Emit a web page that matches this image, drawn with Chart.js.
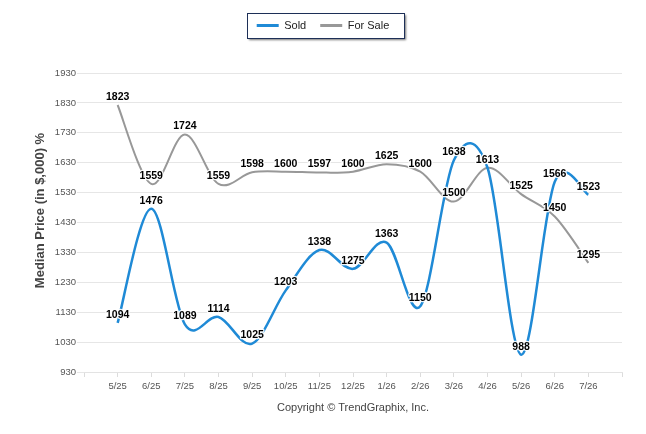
<!DOCTYPE html>
<html>
<head>
<meta charset="utf-8">
<script src="https://cdn.jsdelivr.net/npm/chart.js@4/dist/chart.umd.min.js"></script>
<style>
  html, body { margin: 0; padding: 0; background: #ffffff; }
  #wrap { width: 646px; height: 434px; }
</style>
</head>
<body>
<div id="wrap"><canvas id="c" width="646" height="434"></canvas></div>
<script>
const categories = ['5/25','6/25','7/25','8/25','9/25','10/25','11/25','12/25','1/26','2/26','3/26','4/26','5/26','6/26','7/26'];
const soldValues = [1094,1476,1089,1114,1025,1203,1338,1275,1363,1150,1638,1613,988,1566,1523];
const forSaleValues = [1823,1559,1724,1559,1598,1600,1597,1600,1625,1600,1500,1613,1525,1450,1295];
const yTicks = [930,1030,1130,1230,1330,1430,1530,1630,1730,1830,1930];
const seriesNames = ['Sold','For Sale'];
const seriesColors = ['#1f8ad6','#989898'];
const yTitle = 'Median Price (in $,000) %';
const xTitle = 'Copyright \u00A9 TrendGraphix, Inc.';

// one empty slot on each side of the categories
const labels = [''].concat(categories, ['']);
const pad = arr => [null].concat(arr, [null]);

Chart.defaults.font.family = '"Liberation Sans", Arial, sans-serif';

// uniform Catmull-Rom control points from the element positions
const splinePlugin = {
  id: 'catmullRom',
  beforeDatasetDraw(chart, args) {
    const meta = args.meta;
    const pts = meta.data.filter(p => !p.skip);
    for (let i = 0; i < pts.length; i++) {
      const p = pts[i];
      const prev = pts[i - 1] || p;
      const next = pts[i + 1] || p;
      const dx = (next.x - prev.x) / 6;
      const dy = (next.y - prev.y) / 6;
      p.cp1x = p.x - dx; p.cp1y = p.y - dy;
      p.cp2x = p.x + dx; p.cp2y = p.y + dy;
    }
    meta.dataset._pointsUpdated = true;
    meta.dataset._path = undefined;
  }
};

const legendSizePlugin = {
  id: 'legendSize',
  beforeLayout(chart) {
    const lg = chart.legend;
    if (lg && !lg._sizePatched) {
      const orig = lg.fit;
      lg.fit = function () { orig.call(this); this.height = 67; };
      lg._sizePatched = true;
    }
  }
};

function legendFrame(chart) {
  const hb = chart.legend && chart.legend.legendHitBoxes;
  if (!hb || !hb.length) return null;
  const first = hb[0], last = hb[hb.length - 1];
  const left = Math.round(first.left - 10);
  const right = Math.round(last.left + last.width + 15);
  const top = Math.round(first.top - 7);
  const bottom = Math.round(first.top + first.height + 7);
  return {left, right, top, bottom};
}

const legendBoxPlugin = {
  id: 'legendBox',
  beforeDraw(chart) {
    const f = legendFrame(chart);
    if (!f) return;
    const ctx = chart.ctx;
    ctx.save();
    ctx.shadowColor = 'rgba(0,0,0,0.55)';
    ctx.shadowBlur = 2;
    ctx.shadowOffsetX = 2;
    ctx.shadowOffsetY = 2;
    ctx.fillStyle = '#ffffff';
    ctx.fillRect(f.left, f.top, f.right - f.left, f.bottom - f.top);
    ctx.restore();
  },
  afterDraw(chart) {
    const f = legendFrame(chart);
    if (!f) return;
    const ctx = chart.ctx;
    ctx.save();
    ctx.strokeStyle = '#1d2f57';
    ctx.lineWidth = 1;
    ctx.strokeRect(f.left + 0.5, f.top + 0.5, f.right - f.left, f.bottom - f.top);
    ctx.restore();
  }
};

// vertical axis title, placed a little above the plot's middle as in the original
const yTitlePlugin = {
  id: 'yTitle',
  afterDraw(chart) {
    const ctx = chart.ctx;
    const area = chart.chartArea;
    ctx.save();
    ctx.translate(40, (area.top + area.bottom) / 2 - 12);
    ctx.rotate(-Math.PI / 2);
    ctx.font = 'bold 13px "Liberation Sans", Arial, sans-serif';
    ctx.fillStyle = '#444444';
    ctx.textAlign = 'center';
    ctx.textBaseline = 'middle';
    ctx.fillText(yTitle, 0, 0);
    ctx.restore();
  }
};

const valueLabelPlugin = {
  id: 'valueLabels',
  afterDatasetsDraw(chart) {
    const ctx = chart.ctx;
    ctx.save();
    ctx.font = 'bold 10.5px "Liberation Sans", Arial, sans-serif';
    ctx.textAlign = 'center';
    ctx.textBaseline = 'middle';
    ctx.lineJoin = 'round';
    for (let d = chart.data.datasets.length - 1; d >= 0; d--) {
      const meta = chart.getDatasetMeta(d);
      const ds = chart.data.datasets[d];
      meta.data.forEach((p, i) => {
        const v = ds.data[i];
        if (v === null || v === undefined) return;
        const txt = String(v);
        ctx.strokeStyle = 'rgba(255,255,255,0.9)';
        ctx.lineWidth = 2.5;
        ctx.strokeText(txt, p.x, p.y - 8);
        ctx.fillStyle = '#000000';
        ctx.fillText(txt, p.x, p.y - 8);
      });
    }
    ctx.restore();
  }
};

new Chart(document.getElementById('c'), {
  type: 'line',
  data: {
    labels: labels,
    datasets: [
      {
        label: seriesNames[0],
        data: pad(soldValues),
        borderColor: seriesColors[0],
        backgroundColor: seriesColors[0],
        borderWidth: 2.5,
        pointRadius: 0,
        pointHoverRadius: 0,
        tension: 0.4,
        fill: false
      },
      {
        label: seriesNames[1],
        data: pad(forSaleValues),
        borderColor: seriesColors[1],
        backgroundColor: seriesColors[1],
        borderWidth: 2,
        pointRadius: 0,
        pointHoverRadius: 0,
        tension: 0.4,
        fill: false
      }
    ]
  },
  options: {
    responsive: false,
    animation: false,
    devicePixelRatio: 1,
    layout: { padding: { top: 6, right: 0, bottom: 0, left: 0 } },
    plugins: {
      tooltip: { enabled: false },
      legend: {
        display: true,
        position: 'top',
        labels: {
          boxWidth: 22,
          boxHeight: 3,
          padding: 14,
          color: '#222222',
          font: { size: 11 },
          generateLabels(chart) {
            return Chart.defaults.plugins.legend.labels.generateLabels(chart).map(it => {
              const c = chart.data.datasets[it.datasetIndex].borderColor;
              it.fillStyle = c;
              it.strokeStyle = c;
              it.lineWidth = 0;
              return it;
            });
          }
        }
      }
    },
    scales: {
      x: {
        type: 'category',
        offset: false,
        grid: { display: true, drawOnChartArea: false, drawTicks: true, tickLength: 5, color: '#dcdcdc' },
        border: { display: true, color: '#e3e3e3' },
        ticks: { autoSkip: false, maxRotation: 0, minRotation: 0, padding: 4, color: '#555555', font: { size: 9.5 } },
        title: { display: true, text: xTitle, color: '#444444', font: { size: 11 }, padding: { top: 0, bottom: 19 } },
        afterFit(s) { s.height = 62; }
      },
      y: {
        type: 'linear',
        position: 'left',
        min: yTicks[0],
        max: yTicks[yTicks.length - 1],
        afterBuildTicks(s) { s.ticks = yTicks.map(v => ({ value: v })); },
        grid: { color: '#e6e6e6', drawTicks: true, tickLength: 7 },
        border: { display: false },
        ticks: { padding: 1, color: '#555555', font: { size: 9.5 }, callback: v => String(v) },
        title: { display: false },
        afterFit(s) { s.width = 84; }
      },
      yRight: {
        type: 'linear',
        position: 'right',
        display: true,
        grid: { display: false },
        border: { display: false },
        ticks: { display: false },
        afterFit(s) { s.width = 24; }
      }
    }
  },
  plugins: [legendSizePlugin, splinePlugin, legendBoxPlugin, valueLabelPlugin, yTitlePlugin]
});
</script>
</body>
</html>
